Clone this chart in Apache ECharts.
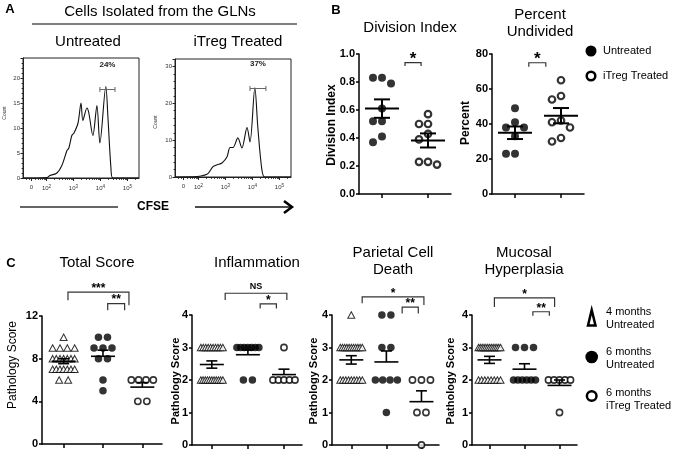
<!DOCTYPE html>
<html><head><meta charset="utf-8">
<script src="https://cdn.jsdelivr.net/npm/echarts@6/dist/echarts.min.js"></script>
<style>html,body{margin:0;padding:0;background:#fff}#c{width:673px;height:453px}</style>
</head><body><div id="c"></div><script>
// ---------------- DATA ----------------
// Panel A: CFSE histograms (x = log10 display position, y = cell count)
const cfseUntreatedX = [1.13, 2.02, 2.13, 2.39, 2.57, 2.76, 2.83, 2.94, 3.02, 3.17, 3.28, 3.35, 3.50, 3.57, 3.72, 3.87, 3.98, 4.20, 4.28, 4.39, 4.46, 5.43];
const cfseUntreatedY = [0, 0.1, 0.5, 1, 2.5, 5.5, 6, 8.5, 9, 11, 15, 11.5, 14, 13, 8.5, 14.5, 7, 18.3, 12, 2, 0, 0];
const cfseITregX = [1.13, 1.94, 2.17, 2.35, 2.54, 2.69, 2.87, 3.06, 3.17, 3.28, 3.46, 3.61, 3.80, 3.91, 4.09, 4.20, 4.35, 4.46, 5.43];
const cfseITregY = [0, 0.1, 0.4, 0.9, 2.8, 3.3, 3.8, 5.5, 8, 8, 10.6, 7.9, 13.4, 9.5, 24.2, 13.5, 2, 0, 0];
const gateUntreated = [3.98, 4.54, 17.7];
const gateITreg = [3.91, 4.50, 24];
const gatePercents = ['24%', '37%'];
const cfseTickPos = [1.44, 2, 3, 4, 5];
const cfseTickBase = ['0', '10', '10', '10', '10'];
const cfseTickExp = ['', '2', '3', '4', '5'];

// Panel B
const divIdxUntreated = [0.83, 0.79, 0.83, 0.61, 0.52, 0.52, 0.41, 0.37];
const divIdxITreg = [0.57, 0.50, 0.50, 0.43, 0.39, 0.23, 0.21, 0.23];
const pctUndivUntreated = [49, 41, 38, 38, 33, 23, 23];
const pctUndivITreg = [65, 56, 54, 42, 41, 38, 32, 30];

// Panel C (groups: 4 months untreated, 6 months untreated, 6 months iTreg treated)
const totalScore4mo = [10, 9, 9, 9, 9, 8, 8, 8, 8, 8, 8, 8, 7, 7, 7, 7, 7, 7, 7, 6, 6];
const totalScore6mo = [10, 10, 9, 9, 9, 8, 8, 6, 5];
const totalScoreITreg = [6, 6, 6, 6, 4, 4];
const inflam4mo = [3, 3, 3, 3, 3, 3, 3, 3, 3, 3, 2, 2, 2, 2, 2, 2, 2, 2, 2, 2, 2];
const inflam6mo = [3, 3, 3, 3, 3, 3, 3, 2, 2];
const inflamITreg = [3, 2, 2, 2, 2, 2];
const parietal4mo = [4, 3, 3, 3, 3, 3, 3, 3, 3, 3, 3, 3, 2, 2, 2, 2, 2, 2, 2, 2, 2];
const parietal6mo = [4, 4, 3, 3, 2, 2, 2, 2, 1];
const parietalITreg = [2, 2, 2, 1, 1, 0];
const mucosal4mo = [3, 3, 3, 3, 3, 3, 3, 3, 3, 3, 3, 3, 3, 2, 2, 2, 2, 2, 2, 2, 2];
const mucosal6mo = [3, 3, 3, 2, 2, 2, 2, 2, 2];
const mucosalITreg = [2, 2, 2, 2, 2, 1];

// significance annotations (x in category units, y in data units)
const sigDivIdx = [{x1: 1.5, x2: 1.85, top: 0.938, l: 0.914, r: 0.914, t: '*'}];
const sigPct = [{x1: 1.30, x2: 1.67, top: 75, l: 72.7, r: 72.7, t: '*'}];
const sigTotal = [{x1: 1.11, x2: 2.66, top: 14.24, l: 13.47, r: 13.0, t: '***'}, {x1: 2.12, x2: 2.55, top: 13.16, l: 12.53, r: 12.53, t: '**'}];
const sigInflam = [{x1: 1.37, x2: 3.08, top: 4.67, l: 4.46, r: 4.46, t: 'NS'}, {x1: 2.34, x2: 2.79, top: 4.34, l: 4.2, r: 4.2, t: '*'}];
const sigParietal = [{x1: 1.31, x2: 3.07, top: 4.56, l: 4.36, r: 4.31, t: '*'}, {x1: 2.45, x2: 2.91, top: 4.24, l: 4.05, r: 4.05, t: '**'}];
const sigMucosal = [{x1: 1.14, x2: 2.86, top: 4.53, l: 4.25, r: 4.25, t: '*'}, {x1: 2.24, x2: 2.71, top: 4.10, l: 3.98, r: 3.98, t: '**'}];

// ---------------- HELPERS ----------------
const FONT = '"Liberation Sans", Arial, Helvetica, sans-serif';
const zip = (a, b) => a.map((v, i) => [v, b[i]]);
const mean = a => a.reduce((s, v) => s + v, 0) / a.length;
const sem = a => { const m = mean(a); return Math.sqrt(a.reduce((s, v) => s + (v - m) ** 2, 0) / (a.length - 1)) / Math.sqrt(a.length); };

function swarmOffsets(vals, ppu, mode, d, maxHalf, diam) {
  const off = new Array(vals.length).fill(0);
  const order = vals.map((v, i) => i).sort((a, b) => vals[b] - vals[a] || a - b);
  if (mode === 'row') {
    const groups = new Map();
    order.forEach(i => { const k = vals[i]; if (!groups.has(k)) groups.set(k, []); groups.get(k).push(i); });
    groups.forEach(ids => {
      const m = ids.length, s = m > 1 ? Math.min(d, 2 * maxHalf / (m - 1)) : 0;
      ids.forEach((id, j) => { off[id] = (j - (m - 1) / 2) * s; });
    });
  } else {
    const placed = [];
    order.forEach(i => {
      const y = vals[i] * ppu;
      for (let k = 0; k < 30; k++) {
        const c = k === 0 ? 0 : (k % 2 ? -1 : 1) * Math.ceil(k / 2) * d;
        if (placed.every(p => (p.x - c) ** 2 + (p.y - y) ** 2 >= diam * diam)) { off[i] = c; placed.push({x: c, y}); break; }
      }
    });
  }
  return off;
}

const STYLES = {
  filledB: {symbol: 'circle', symbolSize: 8, itemStyle: {color: '#000'}},
  openB: {symbol: 'circle', symbolSize: 6.5, itemStyle: {color: '#fff', borderColor: '#000', borderWidth: 2.2}},
  filled: {symbol: 'circle', symbolSize: 7.5, itemStyle: {color: '#000'}},
  open: {symbol: 'circle', symbolSize: 6.2, itemStyle: {color: '#fff', borderColor: '#000', borderWidth: 1.6}},
  tri: {symbol: 'triangle', symbolSize: [7, 6.5], itemStyle: {color: '#fff', borderColor: '#000', borderWidth: 1}}
};

function scatter(vals, cat, xi, yi, kind, ppu, mode) {
  const offs = mode === 'row' ? swarmOffsets(vals, ppu, 'row', 9, 11, 8) : swarmOffsets(vals, ppu, 'swarm', 9, 20, 8.5);
  const st = STYLES[kind];
  return {
    type: 'scatter', xAxisIndex: xi, yAxisIndex: yi, z: 2, silent: true, animation: false,
    symbol: st.symbol, symbolSize: st.symbolSize, itemStyle: st.itemStyle,
    data: vals.map((v, i) => ({value: [cat, v], symbolOffset: [offs[i], 0]}))
  };
}

function errBars(groups, xi, yi, hwMean, hwCap, lw, upperOnly) {
  return {
    type: 'custom', xAxisIndex: xi, yAxisIndex: yi, z: 4, silent: true, clip: false,
    data: groups.map((g, i) => [i + 1, mean(g), sem(g), upperOnly[i] ? 1 : 0]),
    encode: {x: 0, y: 1},
    renderItem: (p, api) => {
      const x = api.value(0), m = api.value(1), s = api.value(2), up = api.value(3);
      const pm = api.coord([x, m]), pt = api.coord([x, m + s]), pb = api.coord([x, m - s]);
      const st = {stroke: '#000', lineWidth: lw, fill: null};
      const kids = [
        {type: 'line', shape: {x1: pm[0] - hwMean, y1: pm[1], x2: pm[0] + hwMean, y2: pm[1]}, style: st},
        {type: 'line', shape: {x1: pt[0], y1: pt[1], x2: pt[0], y2: up ? pm[1] : pb[1]}, style: st},
        {type: 'line', shape: {x1: pt[0] - hwCap, y1: pt[1], x2: pt[0] + hwCap, y2: pt[1]}, style: st}
      ];
      if (!up) kids.push({type: 'line', shape: {x1: pb[0] - hwCap, y1: pb[1], x2: pb[0] + hwCap, y2: pb[1]}, style: st});
      return {type: 'group', children: kids};
    }
  };
}

function brackets(sig, xi, yi, starSize) {
  return {
    type: 'custom', xAxisIndex: xi, yAxisIndex: yi, z: 4, silent: true, clip: false,
    data: sig.map(b => [b.x1, b.x2, b.top, b.l, b.r]),
    encode: {x: [0, 1], y: 2},
    renderItem: (p, api) => {
      const b = sig[p.dataIndex];
      const a1 = api.coord([b.x1, b.l]), a2 = api.coord([b.x1, b.top]), a3 = api.coord([b.x2, b.top]), a4 = api.coord([b.x2, b.r]);
      const isNS = b.t === 'NS';
      return {type: 'group', children: [
        {type: 'polyline', shape: {points: [a1, a2, a3, a4]}, style: {stroke: '#333', lineWidth: 1.2, fill: null}},
        {type: 'text', x: (a2[0] + a3[0]) / 2, y: a2[1] - (isNS ? 7 : 3.5),
          style: {text: b.t, font: `bold ${isNS ? 9 : starSize}px ${FONT}`, fill: '#000', align: 'center', verticalAlign: 'middle'}}
      ]};
    }
  };
}

function gate(xi, yi, g, label) {
  return {
    type: 'custom', xAxisIndex: xi, yAxisIndex: yi, z: 4, silent: true, clip: false,
    data: [g], encode: {x: [0, 1], y: 2},
    renderItem: (p, api) => {
      const a = api.coord([api.value(0), api.value(2)]), b = api.coord([api.value(1), api.value(2)]);
      const st = {stroke: '#666', lineWidth: 1, fill: null};
      return {type: 'group', children: [
        {type: 'line', shape: {x1: a[0], y1: a[1], x2: b[0], y2: b[1]}, style: st},
        {type: 'line', shape: {x1: a[0], y1: a[1] - 2.5, x2: a[0], y2: a[1] + 2.5}, style: st},
        {type: 'line', shape: {x1: b[0], y1: b[1] - 2.5, x2: b[0], y2: b[1] + 2.5}, style: st},
        {type: 'text', x: (a[0] + b[0]) / 2, y: a[1] - 24.5, style: {text: label, font: `bold 8px ${FONT}`, fill: '#222', align: 'center', verticalAlign: 'middle'}}
      ]};
    }
  };
}

// ---------------- LAYOUT ----------------
const grids = [
  {left: 23, top: 58, width: 116, height: 120, show: true, borderColor: '#222', borderWidth: 1, backgroundColor: 'transparent'},
  {left: 175, top: 59, width: 116, height: 118, show: true, borderColor: '#222', borderWidth: 1, backgroundColor: 'transparent'},
  {left: 359, top: 54, width: 92, height: 140},
  {left: 492, top: 54, width: 92, height: 140},
  {left: 42, top: 316, width: 120, height: 128},
  {left: 192, top: 315, width: 110, height: 130},
  {left: 332, top: 315, width: 107, height: 130},
  {left: 472, top: 315, width: 105, height: 130}
];

const cfseMin = 1.13, cfseMax = 5.43;
const cfseMinor = [];
[1.25, 1.35].forEach(v => cfseMinor.push(v));
for (let k = 4; k <= 9; k++) cfseMinor.push(1 + Math.log10(k));
for (let n = 2; n <= 4; n++) for (let k = 2; k <= 9; k++) cfseMinor.push(n + Math.log10(k));
cfseMinor.push(5 + Math.log10(2));

function histX(gi) {
  return {type: 'value', gridIndex: gi, min: cfseMin, max: cfseMax, position: 'bottom',
    axisLine: {show: true, onZero: false, lineStyle: {color: '#222', width: 1}},
    axisTick: {show: true, customValues: cfseTickPos, length: 3, lineStyle: {color: '#222'}},
    axisLabel: {customValues: cfseTickPos, margin: 6, color: '#333', fontSize: 6, fontFamily: FONT,
      formatter: v => { const i = cfseTickPos.findIndex(p => Math.abs(p - v) < 1e-6); return cfseTickExp[i] ? `{b|${cfseTickBase[i]}}{s|${cfseTickExp[i]}}` : `{b|${cfseTickBase[i]}}`; },
      rich: {b: {fontSize: 6, color: '#333', fontFamily: FONT}, s: {fontSize: 4.5, color: '#333', fontFamily: FONT, verticalAlign: 'top', padding: [0, 0, 4, 0]}}},
    splitLine: {show: false}};
}
function histXMinor(gi) {
  return {type: 'value', gridIndex: gi, min: cfseMin, max: cfseMax, position: 'bottom',
    axisLine: {show: false}, axisLabel: {show: false}, splitLine: {show: false},
    axisTick: {show: true, customValues: cfseMinor, length: 1.8, lineStyle: {color: '#222'}}};
}
function histY(gi, max, interval) {
  return {type: 'value', gridIndex: gi, min: 0, max, interval,
    axisLine: {show: true, lineStyle: {color: '#222', width: 1}},
    axisTick: {show: true, length: 2.5, lineStyle: {color: '#222'}},
    minorTick: {show: true, splitNumber: 5, length: 1.4, lineStyle: {color: '#222'}},
    axisLabel: {fontSize: 6, color: '#333', margin: 3, fontFamily: FONT, showMaxLabel: false},
    splitLine: {show: false}};
}
const AX = {color: '#000', width: 1.5};
function sciY(gi, max, interval, fmt) {
  return {type: 'value', gridIndex: gi, min: 0, max, interval,
    axisLine: {show: true, lineStyle: AX}, axisTick: {show: true, length: 3, lineStyle: AX},
    axisLabel: {fontFamily: FONT, fontWeight: 'bold', fontSize: 11, color: '#000', margin: 4, formatter: fmt},
    splitLine: {show: false}};
}
function sciX(gi, min, max, ticks) {
  return {type: 'value', gridIndex: gi, min, max,
    axisLine: {show: true, onZero: false, lineStyle: AX},
    axisTick: {show: true, customValues: ticks, length: 4, lineStyle: AX},
    axisLabel: {show: false}, splitLine: {show: false}};
}

const xAxes = [histX(0), histX(1), histXMinor(0), histXMinor(1),
  sciX(2, 0.5, 2.5, [1, 2]), sciX(3, 0.5, 2.5, [1, 2]),
  sciX(4, 0.45, 3.5, [1, 2, 3]), sciX(5, 0.45, 3.5, [1, 2, 3]), sciX(6, 0.45, 3.5, [1, 2, 3]), sciX(7, 0.5, 3.5, [1, 2, 3])];
const yAxes = [histY(0, 24, 5), histY(1, 32, 10),
  sciY(2, 1, 0.2, v => v.toFixed(1)), sciY(3, 80, 20),
  sciY(4, 12, 4), sciY(5, 4, 1), sciY(6, 4, 1), sciY(7, 4, 1)];

// ---------------- SERIES ----------------
const series = [];
series.push({type: 'line', xAxisIndex: 0, yAxisIndex: 0, data: zip(cfseUntreatedX, cfseUntreatedY), smooth: 0.3, symbol: 'none', silent: true, lineStyle: {color: '#111', width: 1.1}});
series.push({type: 'line', xAxisIndex: 1, yAxisIndex: 1, data: zip(cfseITregX, cfseITregY), smooth: 0.3, symbol: 'none', silent: true, lineStyle: {color: '#111', width: 1.1}});
series.push(gate(0, 0, gateUntreated, gatePercents[0]));
series.push(gate(1, 1, gateITreg, gatePercents[1]));

const plotsB = [
  {xi: 4, yi: 2, groups: [divIdxUntreated, divIdxITreg], ppu: 140, sig: sigDivIdx},
  {xi: 5, yi: 3, groups: [pctUndivUntreated, pctUndivITreg], ppu: 140 / 80, sig: sigPct}
];
plotsB.forEach(pl => {
  pl.groups.forEach((g, i) => series.push(scatter(g, i + 1, pl.xi, pl.yi, i === 0 ? 'filledB' : 'openB', pl.ppu, 'swarm')));
  series.push(errBars(pl.groups, pl.xi, pl.yi, 17, 8, 2, [0, 0]));
  series.push(brackets(pl.sig, pl.xi, pl.yi, 17));
});

const plotsC = [
  {xi: 6, yi: 4, groups: [totalScore4mo, totalScore6mo, totalScoreITreg], ppu: 128 / 12, sig: sigTotal},
  {xi: 7, yi: 5, groups: [inflam4mo, inflam6mo, inflamITreg], ppu: 130 / 4, sig: sigInflam},
  {xi: 8, yi: 6, groups: [parietal4mo, parietal6mo, parietalITreg], ppu: 130 / 4, sig: sigParietal},
  {xi: 9, yi: 7, groups: [mucosal4mo, mucosal6mo, mucosalITreg], ppu: 130 / 4, sig: sigMucosal}
];
const kindsC = ['tri', 'filled', 'open'];
plotsC.forEach(pl => {
  pl.groups.forEach((g, i) => series.push(scatter(g, i + 1, pl.xi, pl.yi, kindsC[i], pl.ppu, 'row')));
  series.push(errBars(pl.groups, pl.xi, pl.yi, 12, 5.5, 1.6, [0, 1, 1]));
  series.push(brackets(pl.sig, pl.xi, pl.yi, 12));
});

// ---------------- TEXT & DECORATION ----------------
const T = (x, y, text, size, o = {}) => ({type: 'text', x, y, rotation: o.rot || 0, z: 100, silent: true,
  style: {text, font: `${o.bold ? 'bold ' : ''}${size}px ${FONT}`, fill: o.color || '#000', align: o.align || 'center', verticalAlign: 'middle'}});
const L = (x1, y1, x2, y2, w, c) => ({type: 'line', z: 100, silent: true, shape: {x1, y1, x2, y2}, style: {stroke: c || '#000', lineWidth: w}});
const R90 = Math.PI / 2;
const graphic = [
  T(10, 9, 'A', 13, {bold: true}), T(336, 10, 'B', 13, {bold: true}), T(11, 263, 'C', 13, {bold: true}),
  T(160, 12, 'Cells Isolated from the GLNs', 15),
  L(32, 24, 297, 24, 1.5, '#555'),
  T(88, 42, 'Untreated', 15), T(238, 42, 'iTreg Treated', 15),
  T(5, 113, 'Count', 5, {rot: R90, color: '#333'}), T(156, 122, 'Count', 5, {rot: R90, color: '#333'}),
  L(20, 207, 118, 207, 1.5, '#333'),
  T(153, 207, 'CFSE', 12, {bold: true}),
  L(195, 207, 290, 207, 1.5, '#111'),
  {type: 'polyline', z: 100, silent: true, shape: {points: [[284, 201], [292, 207], [284, 213]]}, style: {stroke: '#000', lineWidth: 2.5, fill: null}},
  T(410, 28, 'Division Index', 15), T(540, 15, 'Percent', 15), T(540, 32, 'Undivided', 15),
  T(332, 125, 'Division Index', 12, {bold: true, rot: R90}), T(466, 123, 'Percent', 12, {bold: true, rot: R90}),
  {type: 'circle', z: 100, silent: true, shape: {cx: 591, cy: 51, r: 5.5}, style: {fill: '#000'}},
  T(603, 51, 'Untreated', 11, {align: 'left'}),
  {type: 'circle', z: 100, silent: true, shape: {cx: 591, cy: 76, r: 4.3}, style: {fill: '#fff', stroke: '#000', lineWidth: 2.5}},
  T(603, 76, 'iTreg Treated', 11, {align: 'left'}),
  T(97, 263, 'Total Score', 15), T(257, 263, 'Inflammation', 15),
  T(393, 253, 'Parietal Cell', 15), T(393, 270, 'Death', 15),
  T(524, 253, 'Mucosal', 15), T(524, 270, 'Hyperplasia', 15),
  T(13, 365, 'Pathology Score', 12, {rot: R90}),
  T(176, 381, 'Pathology Score', 11, {bold: true, rot: R90}),
  T(314, 381, 'Pathology Score', 11, {bold: true, rot: R90}),
  T(451, 381, 'Pathology Score', 11, {bold: true, rot: R90}),
  {type: 'polygon', z: 100, silent: true, shape: {points: [[588, 325.5], [595.5, 325.5], [591.7, 310]]}, style: {fill: '#fff', stroke: '#000', lineWidth: 2.5}},
  T(606, 312, '4 months', 11, {align: 'left'}), T(606, 325, 'Untreated', 11, {align: 'left'}),
  {type: 'circle', z: 100, silent: true, shape: {cx: 591.7, cy: 357, r: 6.3}, style: {fill: '#000'}},
  T(606, 352, '6 months', 11, {align: 'left'}), T(606, 365, 'Untreated', 11, {align: 'left'}),
  {type: 'circle', z: 100, silent: true, shape: {cx: 591.7, cy: 396, r: 4.8}, style: {fill: '#fff', stroke: '#000', lineWidth: 2.5}},
  T(606, 393, '6 months', 11, {align: 'left'}), T(606, 406, 'iTreg Treated', 11, {align: 'left'})
];

const chart = echarts.init(document.getElementById('c'), null, {renderer: 'canvas'});
chart.setOption({
  animation: false, backgroundColor: '#fff',
  textStyle: {fontFamily: FONT},
  grid: grids, xAxis: xAxes, yAxis: yAxes, series, graphic
});
</script></body></html>
